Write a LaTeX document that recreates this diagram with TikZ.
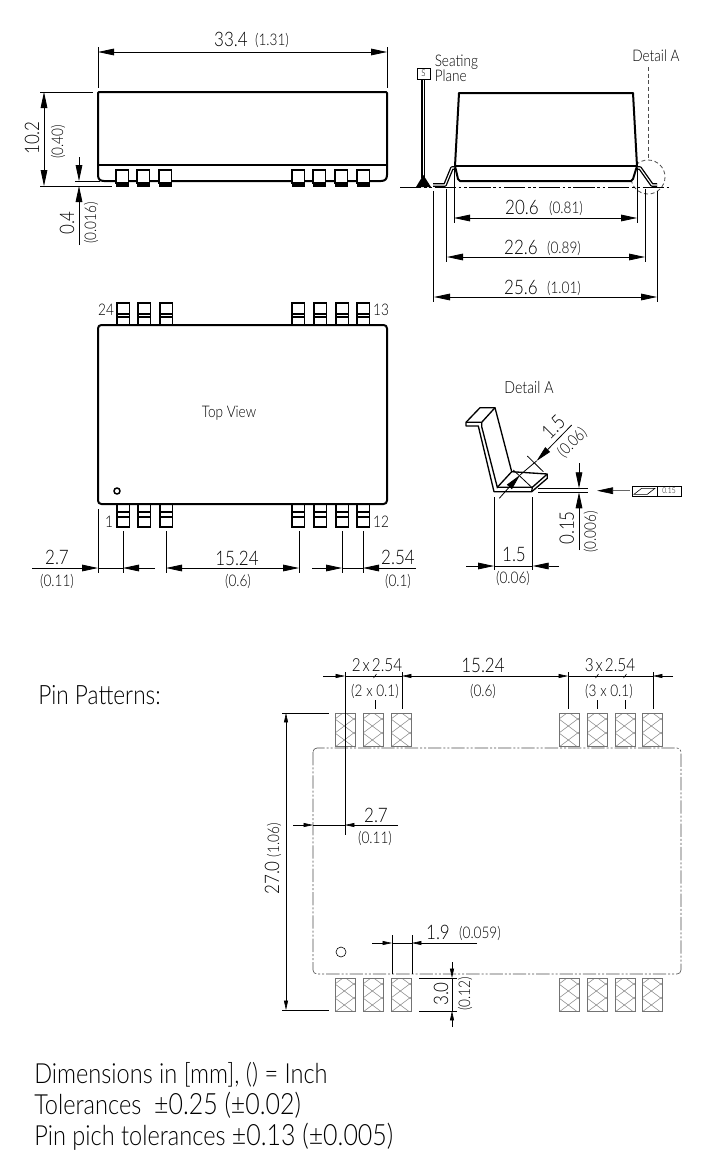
\documentclass[tikz,border=0pt]{standalone}
\usepackage{fontspec}
\setmainfont{Lato Light}[FakeStretch=0.85]
\usetikzlibrary{arrows.meta}
\tikzset{
  numtext/.style={inner sep=0pt,font=\fontsize{15}{17}\selectfont},
  subtext/.style={inner sep=0pt,font=\fontsize{12}{14}\selectfont},
  labeltext/.style={inner sep=0pt,font=\fontsize{12.5}{14}\selectfont},
  titletext/.style={inner sep=0pt,anchor=west,font=\fontsize{20}{22}\selectfont},
  linetext/.style={inner sep=0pt,anchor=west,font=\fontsize{20.8}{23}\selectfont},
  extline/.style={line width=0.6pt},
  bigdim/.style={line width=0.6pt,{Triangle[length=12pt,width=5pt]}-{Triangle[length=12pt,width=5pt]}},
  bigend/.style={line width=0.6pt,-{Triangle[length=12pt,width=5pt]}},
  thindim/.style={line width=0.45pt,{Triangle[length=7pt,width=3pt]}-{Triangle[length=7pt,width=3pt]}},
  thinend/.style={line width=0.45pt,-{Triangle[length=7pt,width=3pt]}},
  thinline/.style={line width=0.45pt},
  bodyline/.style={line width=1.5pt,line join=round},
  pinline/.style={line width=1pt},
  leadout/.style={line width=2.8pt,line join=round},
  leadin/.style={line width=0.8pt,white,line join=round},
  pattline/.style={line width=0.45pt,black!70,dash pattern=on 10pt off 1.5pt on 1.5pt off 1.5pt on 1.5pt off 1.5pt},
  hatchline/.style={line width=0.35pt,black!55}
}
\newcommand{\wide}{\fontsize{22}{23}\selectfont}
% one hatched land of the pin pattern
\newcommand{\hatchpad}[2]{
  \draw[hatchline] (#1,#2) rectangle ++(20,33);
  \begin{scope}
    \clip (#1,#2) rectangle ++(20,33);
    \foreach \t in {-22,-8,...,48} {
      \draw[hatchline] (#1,#2+\t) -- ++(20,15);
      \draw[hatchline] (#1,#2+\t) -- ++(20,-15);
    }
  \end{scope}
}
\begin{document}
\begin{tikzpicture}[x=0.75pt,y=0.75pt,yscale=-1,xscale=1]
\useasboundingbox (0,0) rectangle (720,1171);

% Side view, left
\draw[bodyline] (99,92) -- (386,92) -- (387,93) -- (387,175) .. controls (387,179) and (385,181) .. (381,181) -- (104,181) .. controls (100,181) and (98,179) .. (98,175) -- (98,93) -- cycle;
\draw[bodyline] (98,165) -- (387,165);
\foreach \px in {116,137,159,292,313,335,357} {
  \draw[pinline,fill=white] (\px,170) rectangle ++(12.5,13);
  \fill (\px-.5,183) rectangle ++(13.5,4);
}
\draw[bigdim] (98,52) -- (387,52);
\draw[extline] (98,47) -- (98,88);
\draw[extline] (387,47) -- (387,88);
\draw[bigdim] (44,92) -- (44,186);
\draw[extline] (40,92) -- (93,92);
\draw[extline] (40,186) -- (112,186);
\draw[extline] (75,181) -- (100,181);
\draw[bigend] (79,157) -- (79,181);
\draw[bigend] (79,245) -- (79,186);
\node[numtext] (lenmm) at (231,39) {33.4};
\node[subtext] (lenin) at (272,40) {(1.31)};
\node[numtext,rotate=90] (highmm) at (32,138) {10.2};
\node[subtext,rotate=90] (highin) at (58,142) {(0.40)};
\node[numtext,rotate=90] (gapmm) at (67,223) {0.4};
\node[subtext,rotate=90] (gapin) at (91,223) {(0.016)};

% Side view, right
\draw[extline,black!70,dash pattern=on 3pt off 2pt] (648,67) -- (648,160);
\draw[extline,black!70,dash pattern=on 3pt off 2pt] (648,177) circle [radius=17];
\draw[leadout] (433,185) -- (445,185) -- (452,168) -- (457,168);
\draw[leadin] (433,185) -- (445,185) -- (452,168) -- (457,168);
\draw[leadout] (657,185) -- (652,185) -- (640,168) -- (635,168);
\draw[leadin] (657,185) -- (652,185) -- (640,168) -- (635,168);
\draw[bodyline,fill=white] (459,93) -- (633,93) -- (637,166) -- (633,179) -- (631,181) -- (460,181) -- (458,179) -- (455,166) -- cycle;
\draw[bodyline] (455,166) -- (637,166);
\draw[thinline,dash pattern=on 16pt off 2pt on 2pt off 2pt on 2pt off 2pt] (400,187) -- (670,187);
\draw[leadout] (423.3,79) -- (423.3,178);
\draw[leadin] (423.3,79) -- (423.3,178);
\fill (423.3,175) -- (431,187) -- (416,187) -- cycle;
\draw[extline,fill=white] (417,68) rectangle (430,79);
\node[inner sep=0pt,font=\fontsize{7}{8}\selectfont] (seatbox) at (423.5,73.5) {S};
\node[subtext,anchor=west] (seatone) at (434.5,62) {Seating};
\node[subtext,anchor=west] (seattwo) at (434.5,76) {Plane};
\node[subtext] (detailtop) at (656,56) {Detail A};
\draw[bigdim] (454,218) -- (637,218);
\draw[extline] (454,168) -- (454,223);
\draw[extline] (637,168) -- (637,223);
\draw[bigdim] (447,257) -- (645,257);
\draw[extline] (446,189) -- (446,262);
\draw[extline] (645,189) -- (645,262);
\draw[bigdim] (434,297) -- (657,297);
\draw[extline] (433.5,191) -- (433.5,302);
\draw[extline] (657,191) -- (657,302);
\node[numtext] (wida) at (522,207) {20.6};
\node[subtext] (widain) at (566,208) {(0.81)};
\node[numtext] (widb) at (521,247) {22.6};
\node[subtext] (widbin) at (564,248) {(0.89)};
\node[numtext] (widc) at (521,287) {25.6};
\node[subtext] (widcin) at (564,288) {(1.01)};

% Top view
\foreach \px in {117,138,160,292,314,336,357} {
  \draw[pinline,fill=white] (\px,303) rectangle ++(12.5,22);
  \draw[pinline] (\px,314) -- ++(12.5,0);
  \draw[pinline] (\px,317) -- ++(12.5,0);
  \draw[pinline,fill=white] (\px,504) rectangle ++(12.5,23);
  \draw[pinline] (\px,512) -- ++(12.5,0);
  \draw[line width=1.5pt] (\px,517) -- ++(12.5,0);
}
\draw[bodyline,fill=white,rounded corners=2.5pt] (98,325) rectangle (387,504);
\draw[line width=1.1pt] (117,491) circle [radius=3];
\node[subtext] (toplabel) at (229,413) {Top View};
\node[subtext] (pintl) at (106,310) {24};
\node[subtext] (pintr) at (381,310) {13};
\node[subtext] (pinbl) at (109,522) {1};
\node[subtext] (pinbr) at (381,522) {12};
\draw[extline] (98,509) -- (98,573);
\foreach \ex in {123,166,299,342,363} {
  \draw[extline] (\ex,531) -- (\ex,573);
}
\draw[bigend] (32,568) -- (98,568);
\draw[extline] (98,568) -- (123,568);
\draw[bigend] (155,568) -- (123,568);
\draw[bigdim] (166,568) -- (299,568);
\draw[bigend] (312,568) -- (342,568);
\draw[extline] (342,568) -- (363,568);
\draw[bigend] (416,568) -- (363,568);
\node[numtext] (pitcha) at (57,557) {2.7};
\node[subtext] (pitchain) at (57,581) {(0.11)};
\node[numtext] (pitchb) at (237,558) {15.24};
\node[subtext] (pitchbin) at (238,581) {(0.6)};
\node[numtext] (pitchc) at (398,557) {2.54};
\node[subtext] (pitchcin) at (398,581) {(0.1)};

% Detail A
\node[labeltext] (detaillabel) at (529,387) {Detail A};
\draw[pinline,line join=round] (466,422.3) -- (480,407.7) -- (495,407.7) -- (511.7,471.7) -- (547.3,474) -- (547.3,478.3) -- (531.7,491.7) -- (494,491.7) -- (478.3,426) -- (466,426) -- cycle;
\draw[pinline] (466,422.3) -- (481.7,422.3) -- (495,407.7);
\draw[pinline] (481.7,422.3) -- (481.7,426.7) -- (497.3,487.3) -- (511.7,471.7);
\draw[pinline] (497.3,487.3) -- (532.3,487.3) -- (547.3,474);
\draw[pinline] (532.3,487.3) -- (531.7,491.7);
\draw[extline] (527.3,456) -- (543.3,471.7);
\draw[extline] (513.3,470) -- (531.7,487.3);
\draw[bigend] (571.7,425) -- (536.5,461);
\draw[bigend] (499.3,498.3) -- (520,475);
\draw[extline] (536.5,461) -- (520,475);
\draw[extline] (538,488.3) -- (588,488.3);
\draw[extline] (538,492.3) -- (588,492.3);
\draw[bigend] (579,463) -- (579,488.3);
\draw[bigend] (579,550) -- (579,492.3);
\draw[line width=0.5pt,black!60,-{Triangle[length=12pt,width=5pt,black]}] (630,490.7) -- (597,490.7);
\draw[extline] (632,486) rectangle (681,496);
\draw[extline] (657,486) -- (657,496);
\draw[thinline] (634,494.3) -- (641.7,488.3) -- (655,488.3) -- (647.3,494.3) -- cycle;
\node[inner sep=0pt,font=\fontsize{6}{7}\selectfont] (flatval) at (669,491) {0.15};
\draw[extline] (494,497) -- (494,570);
\draw[extline] (532.7,497) -- (532.7,570);
\draw[bigend] (466,566) -- (494,566);
\draw[extline] (494,566) -- (532.7,566);
\draw[bigend] (559,566) -- (532.7,566);
\node[numtext,rotate=45] (slantmm) at (553.3,426.7) {1.5};
\node[subtext,rotate=45] (slantin) at (572.3,442.7) {(0.06)};
\node[numtext,rotate=90] (thickmm) at (566.7,528) {0.15};
\node[subtext,rotate=90] (thickin) at (590.7,532) {(0.006)};
\node[numtext] (footmm) at (514,554) {1.5};
\node[subtext] (footin) at (513,578) {(0.06)};

% Pin pattern
\node[titletext] (patttitle) at (38,695) {Pin Patterns:};
\draw[pattline,rounded corners=3pt] (313,748) rectangle (681,974);
\foreach \px in {335,363,391,559,587,615,642} {
  \hatchpad{\px}{713}
  \hatchpad{\px}{978}
}
\draw[thinend] (323,676) -- (345,676);
\draw[thinline] (345,676) -- (402,676);
\draw[thindim] (402,676) -- (568,676);
\draw[thinline] (568,676) -- (653,676);
\draw[thinend] (673,676) -- (653,676);
\draw[thinline] (345,672) -- (345,835);
\foreach \ex in {402,568,653} {
  \draw[thinline] (\ex,672) -- (\ex,709);
}
\foreach \ex in {375,597,625} {
  \draw[thinline] (\ex,700) -- (\ex,709);
  \draw[thinline] (\ex-1.5,678) -- (\ex+1.5,674);
}
\node[numtext,font=\fontsize{13.5}{16}\selectfont] (landa) at (377,665) {2\hspace{1.5pt}x\hspace{1.5pt}2.54};
\node[subtext] (landain) at (375,691) {(2 x 0.1)};
\node[numtext] (landb) at (483,665) {15.24};
\node[subtext] (landbin) at (483,691) {(0.6)};
\node[numtext,font=\fontsize{13.5}{16}\selectfont] (landc) at (610,665) {3\hspace{1.5pt}x\hspace{1.5pt}2.54};
\node[subtext] (landcin) at (609,691) {(3 x 0.1)};
\draw[thindim] (286,713) -- (286,1010);
\draw[thinline] (282,713) -- (329,713);
\draw[thinline] (282,1010) -- (329,1010);
\node[numtext,rotate=90] (spanmm) at (273,859) {27.0\hspace{3pt}{\fontsize{12}{14}\selectfont(1.06)}};
\draw[thinend] (293,825) -- (313,825);
\draw[thinline] (313,825) -- (345,825);
\draw[thinend] (398,825) -- (345,825);
\node[numtext] (edgemm) at (376,815) {2.7};
\node[subtext] (edgein) at (375,838) {(0.11)};
\draw[thinline] (341,952) circle [radius=5];
\draw[thinline] (392,935) -- (392,974);
\draw[thinline] (412,935) -- (412,974);
\draw[thinend] (372,943) -- (392,943);
\draw[thinline] (392,943) -- (412,943);
\draw[thinend] (477,943) -- (412,943);
\node[numtext] (landw) at (438,932) {1.9};
\node[subtext] (landwin) at (480,933) {(0.059)};
\draw[thinline] (419,978) -- (457,978);
\draw[thinline] (419,1011) -- (457,1011);
\draw[thinend] (452,962) -- (452,978);
\draw[thinline] (452,978) -- (452,1011);
\draw[thinend] (452,1027) -- (452,1011);
\node[numtext,rotate=90] (landh) at (441,994) {3.0};
\node[subtext,rotate=90] (landhin) at (465,994) {(0.12)};

% Notes
\node[linetext] (noteone) at (34,1074.5) {Dimensions in [mm], () = Inch};
\node[linetext] (notetwo) at (34,1105.5) {Tolerances\ \ {\wide ±0.25 (±0.02)}};
\node[linetext] (notethree) at (34,1136.5) {Pin pich tolerances {\wide ±0.13 (±0.005)}};
\end{tikzpicture}
\end{document}
